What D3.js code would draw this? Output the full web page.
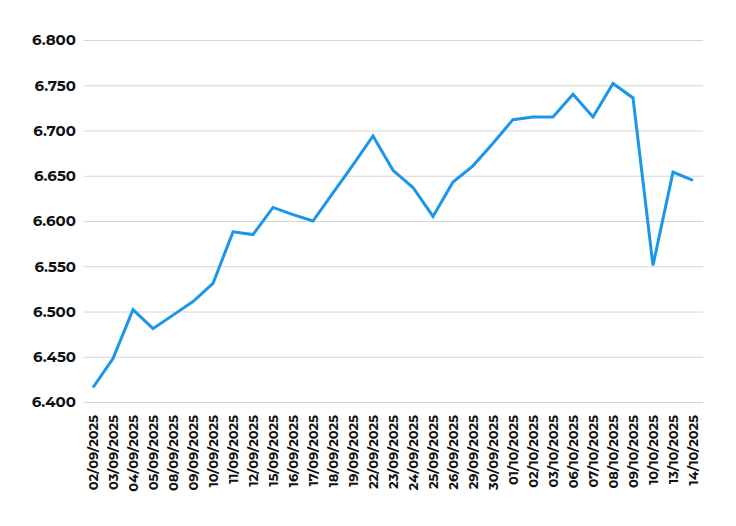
<!DOCTYPE html>
<html><head><meta charset="utf-8">
<script src="https://cdn.jsdelivr.net/npm/d3@7"></script>
<style>body{margin:0;background:#fff}</style>
</head><body>
<svg id="c" width="736" height="526"></svg>
<script>
const dates = ["02/09/2025","03/09/2025","04/09/2025","05/09/2025","08/09/2025","09/09/2025","10/09/2025","11/09/2025","12/09/2025","15/09/2025","16/09/2025","17/09/2025","18/09/2025","19/09/2025","22/09/2025","23/09/2025","24/09/2025","25/09/2025","26/09/2025","29/09/2025","30/09/2025","01/10/2025","02/10/2025","03/10/2025","06/10/2025","07/10/2025","08/10/2025","09/10/2025","10/10/2025","13/10/2025","14/10/2025"];
const values = [6.416,6.448,6.502,6.481,6.496,6.511,6.531,6.588,6.585,6.615,6.607,6.600,6.631,6.662,6.694,6.656,6.637,6.605,6.643,6.661,6.686,6.712,6.715,6.715,6.740,6.715,6.752,6.736,6.551,6.654,6.645];
const yTicks = [6.40,6.45,6.50,6.55,6.60,6.65,6.70,6.75,6.80];

const svg = d3.select("#c");
const font = "Montserrat, 'Open Sans', Lato, sans-serif";
const x = d3.scalePoint().domain(dates).range([83,703]).padding(0.5);
const y = d3.scaleLinear().domain([6.4,6.8]).range([402,40]);

const yAxis = svg.append("g").attr("transform","translate(84,0)")
  .call(d3.axisLeft(y).tickValues(yTicks).tickSize(-619).tickPadding(8).tickFormat(d3.format(".3f")));
yAxis.select(".domain").remove();
yAxis.selectAll(".tick line").attr("stroke","#d6d6d6").attr("stroke-width",1);
yAxis.selectAll(".tick text").attr("font-family",font).attr("font-size",15).attr("font-weight",700).attr("fill","#111");

const xAxis = svg.append("g").attr("transform","translate(0,410)")
  .call(d3.axisBottom(x).tickSize(0).tickPadding(0));
xAxis.select(".domain").remove();
xAxis.selectAll(".tick text")
  .attr("font-family",font).attr("font-size",13).attr("font-weight",700).attr("fill","#111")
  .attr("transform","rotate(-90)").attr("text-anchor","end").attr("dy","0.35em").attr("x",-5).attr("y",0);

const line = d3.line().x((d,i)=>x(dates[i])).y(d=>y(d));
svg.append("path").datum(values).attr("d",line)
  .attr("fill","none").attr("stroke","#1a96ea").attr("stroke-width",3).attr("stroke-linejoin","miter");
</script>
</body></html>
